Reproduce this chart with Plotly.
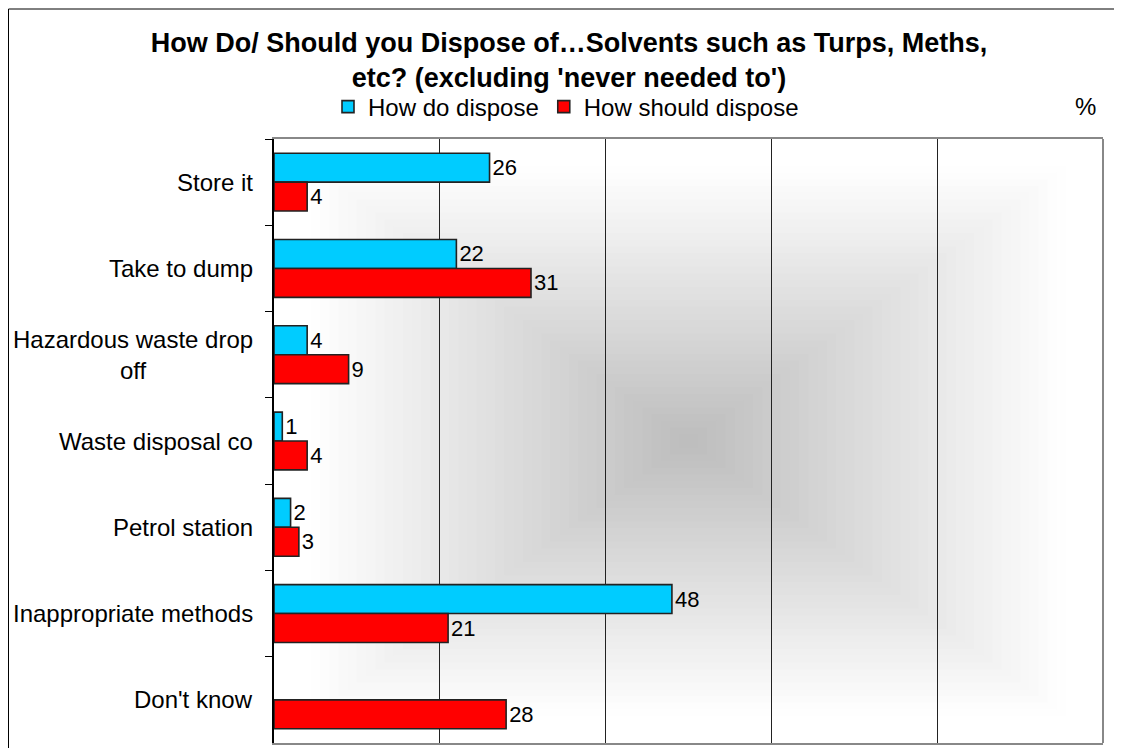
import plotly.graph_objects as go

categories = ["Store it", "Take to dump", "Hazardous waste drop off", "Waste disposal co",
              "Petrol station", "Inappropriate methods", "Don't know"]
label_text = ["Store it", "Take to dump", "Hazardous waste drop<br>off", "Waste disposal co",
              "Petrol station", "Inappropriate methods", "Don't know"]
how_do = [26, 22, 4, 1, 2, 48, None]
how_should = [4, 31, 9, 4, 3, 21, 28]
series_names = ["How do dispose", "How should dispose"]

FONT = "Liberation Sans, Arial, sans-serif"

# figure-space plot area (page body adds an 8px offset)
L, T, R, B = 266, 131, 27, 13
PW, PH = 1122 - L - R, 748 - T - B


def px_x(px):
    return (px - L) / PW


def px_y(py):
    return (748 - B - py) / PH


fig = go.Figure()
fig.add_trace(go.Bar(
    y=categories, x=how_do, orientation="h", name=series_names[0],
    marker=dict(color="#00CCFF", line=dict(color="#222222", width=1.6)),
    text=[("" if v is None else str(v)) for v in how_do], textposition="outside",
    textfont=dict(size=22, color="black", family=FONT), cliponaxis=False,
))
fig.add_trace(go.Bar(
    y=categories, x=how_should, orientation="h", name=series_names[1],
    marker=dict(color="#FF0000", line=dict(color="#222222", width=1.6)),
    text=[str(v) for v in how_should], textposition="outside",
    textfont=dict(size=22, color="black", family=FONT), cliponaxis=False,
))

shapes = []
# rectangular "from centre" gradient background
N = 45
for k in range(N):
    s = (N - k) / N
    g = int(round(188 + 67 * min(1.0, s / 0.92)))
    col = f"rgb({g},{g},{g})"
    shapes.append(dict(type="rect", xref="x domain", yref="y domain",
                       x0=0.5 - 0.5 * s, x1=0.5 + 0.5 * s, y0=0.5 - 0.5 * s, y1=0.5 + 0.5 * s,
                       fillcolor=col, line=dict(width=0), layer="below"))
# right border of plot area
shapes.append(dict(type="line", xref="x domain", yref="y domain", x0=1, x1=1, y0=0, y1=1,
                   line=dict(color="#888888", width=2), layer="above"))
# outer chart border
shapes.append(dict(type="rect", xref="paper", yref="paper",
                   x0=px_x(0.5), x1=px_x(1200), y0=px_y(800), y1=px_y(1),
                   line=dict(color="black", width=1), fillcolor="rgba(0,0,0,0)", layer="above"))

annotations = []
for c, t in zip(categories, label_text):
    annotations.append(dict(text=t, xref="paper", x=0, xshift=-19, xanchor="right",
                            yref="y", y=c, yanchor="middle", align="center", showarrow=False,
                            font=dict(size=24, color="black", family=FONT)))
annotations.append(dict(text="%", xref="paper", yref="paper", x=px_x(1077),
                        y=px_y(99), xanchor="center", yanchor="middle", showarrow=False,
                        font=dict(size=24, color="black", family=FONT)))

fig.update_layout(
    width=1122, height=748,
    margin=dict(l=L, r=R, t=T, b=B),
    paper_bgcolor="white", plot_bgcolor="white",
    barmode="group", bargap=0.33, bargroupgap=0,
    font=dict(family=FONT, color="black"),
    title=dict(text="<b>How Do/ Should you Dispose of…Solvents such as Turps, Meths,<br>etc? (excluding 'never needed to')</b>",
               x=0.5, xref="container", xanchor="center",
               y=1 - 44 / 748, yref="container", yanchor="middle",
               font=dict(size=27, color="black", family=FONT)),
    legend=dict(orientation="h", x=px_x(320), xanchor="left",
                y=px_y(99), yanchor="middle",
                font=dict(size=24, color="black", family=FONT),
                bgcolor="rgba(0,0,0,0)", traceorder="normal"),
    xaxis=dict(range=[0, 100], dtick=20, showgrid=True, gridcolor="#222222", gridwidth=1,
               showticklabels=False, zeroline=False, ticks="",
               showline=True, linecolor="#888888", linewidth=2, mirror=True),
    yaxis=dict(type="category", autorange="reversed", tickson="boundaries",
               ticks="outside", ticklen=7, tickcolor="black", tickwidth=1,
               showticklabels=False, showgrid=False, zeroline=False,
               showline=True, linecolor="black", linewidth=1.5),
    shapes=shapes, annotations=annotations,
)

fig.write_html("out.html")
